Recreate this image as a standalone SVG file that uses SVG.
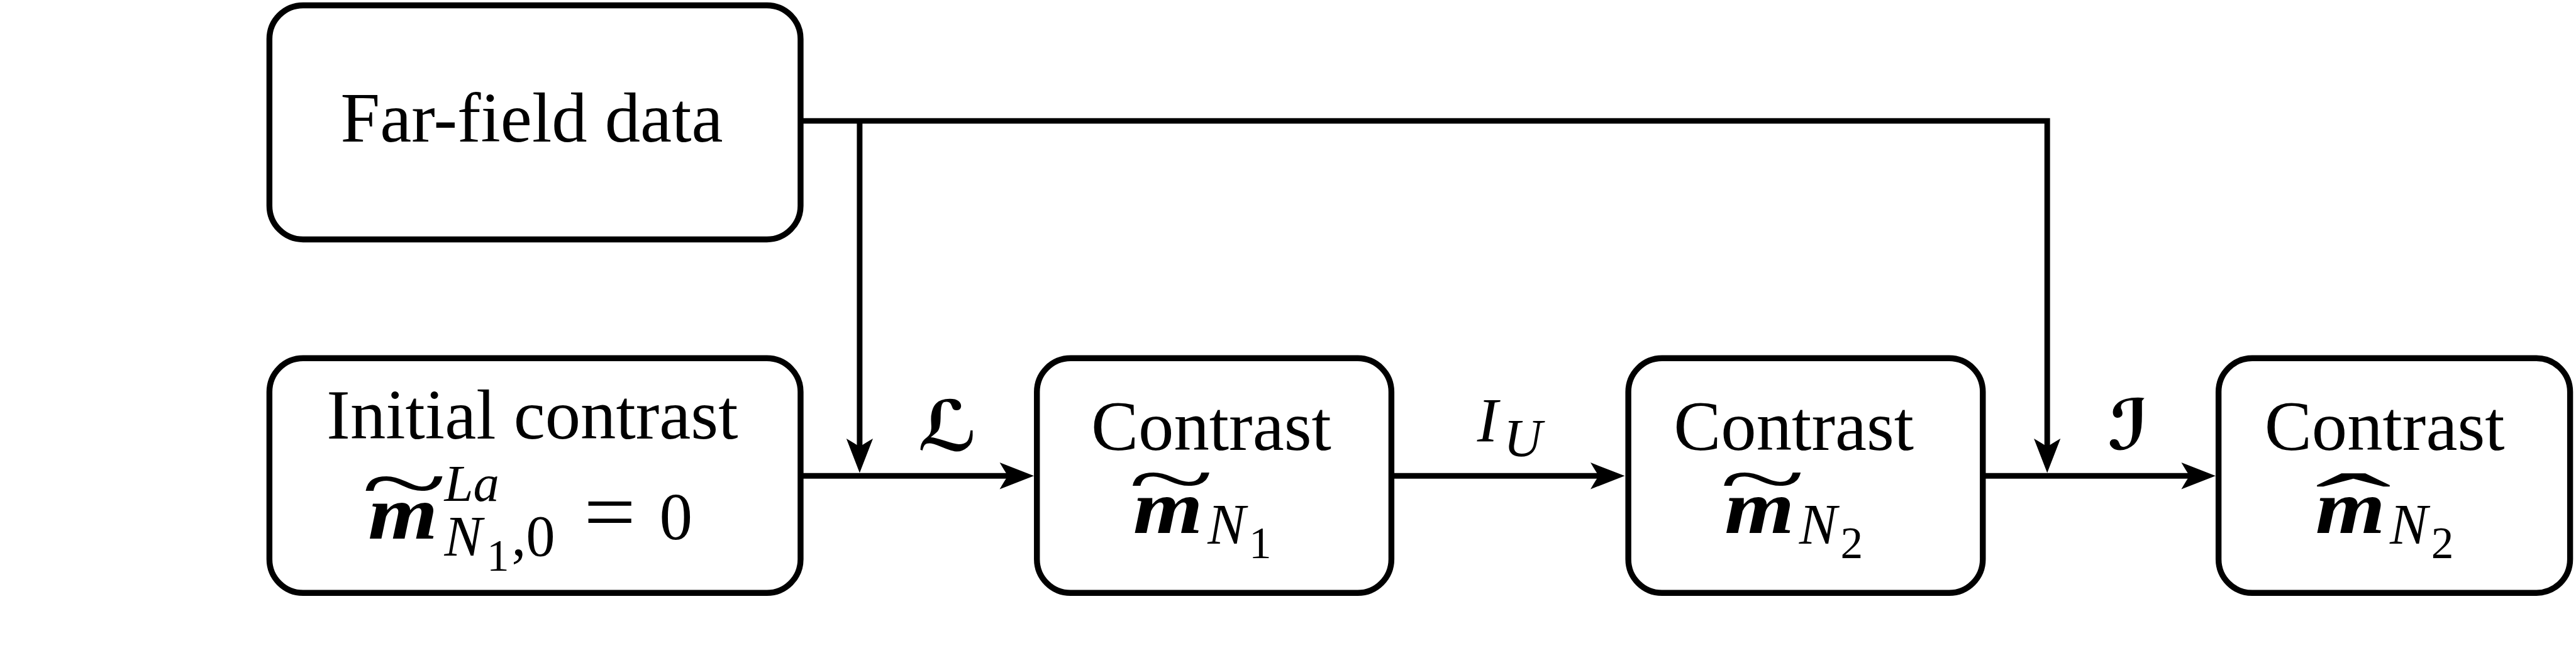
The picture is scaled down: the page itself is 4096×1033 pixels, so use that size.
<svg xmlns="http://www.w3.org/2000/svg" width="4096" height="1033" viewBox="0 0 4096 1033">
<style>
.box{fill:#fff;stroke:#000;stroke-width:10}
.ln{fill:none;stroke:#000;stroke-width:9.5;stroke-linejoin:miter;stroke-linecap:butt}
.ah{fill:#000;stroke:none}
.t{font-family:"Liberation Serif","Times New Roman",serif;font-size:120px;fill:#000}
.mb{font-family:"Liberation Serif","Times New Roman",serif;font-weight:bold;font-style:italic;font-size:128px;fill:#000}
.mi{font-family:"Liberation Serif","Times New Roman",serif;font-style:italic;fill:#000}
.mr{font-family:"Liberation Serif","Times New Roman",serif;fill:#000}
.sc{font-family:"DejaVu Serif","DejaVu Sans","Liberation Serif",serif;font-style:italic;fill:#000}
</style>
<defs>
<path id="ah" d="M0,0 L-58,-22.5 Q-49,-7 -44,0 Q-49,7 -58,22.5 Z"/>
</defs>
<rect width="4096" height="1033" fill="#fff"/>
<g transform="scale(0.93945)">
<g id="connectors">
<path class="ln" d="M1355,204.5 H3465 V765"/>
<path class="ln" d="M1455,204.5 V765"/>
<path class="ln" d="M1355,805 H1714"/>
<path class="ln" d="M2355,805 H2714"/>
<path class="ln" d="M3356,805 H3714"/>
<use href="#ah" class="ah" transform="translate(1455,800) rotate(90)"/>
<use href="#ah" class="ah" transform="translate(3465,800) rotate(90)"/>
<use href="#ah" class="ah" transform="translate(1750,805)"/>
<use href="#ah" class="ah" transform="translate(2750,805)"/>
<use href="#ah" class="ah" transform="translate(3750,805)"/>
<text class="sc" x="1604" y="762" font-size="118" font-weight="bold" text-anchor="middle">ℒ</text>
<text class="mi" x="2500" y="746" font-size="106">I</text>
<text class="mi" x="2545" y="772" font-size="90">U</text>
<text class="sc" x="3602" y="760" font-size="118" font-weight="bold" text-anchor="middle">ℐ</text>
</g>
<g id="farfield">
<rect class="box" x="456" y="9" width="899" height="396" rx="57"/>
<text class="t" x="900" y="239" text-anchor="middle">Far-field data</text>
</g>
<g id="initial">
<rect class="box" x="456" y="606" width="899" height="397" rx="57"/>
<text class="t" x="901" y="742" text-anchor="middle">Initial contrast</text>
<text class="mb" x="623" y="911" textLength="118" lengthAdjust="spacingAndGlyphs">m</text>
<text class="mr" transform="translate(684,866) scale(1,0.55)" font-size="268" text-anchor="middle">~</text>
<text class="mi" x="752" y="847" font-size="88">La</text>
<text class="mi" x="752" y="940" font-size="96">N</text>
<text class="mr" x="824" y="965" font-size="76">1</text>
<text class="mr" x="866" y="940" font-size="98">,0</text>
<text class="mr" x="988" y="914" font-size="145" textLength="88" lengthAdjust="spacingAndGlyphs">=</text>
<text class="mr" x="1116" y="912" font-size="112">0</text>
</g>
<g id="contrast1">
<rect class="box" x="1755" y="606" width="600" height="397" rx="57"/>
<text class="t" x="2050" y="761" text-anchor="middle">Contrast</text>
<text class="mb" x="1918" y="902" textLength="118" lengthAdjust="spacingAndGlyphs">m</text>
<text class="mr" transform="translate(1982,855) scale(1,0.5)" font-size="268" text-anchor="middle">~</text>
<text class="mi" x="2044" y="920" font-size="96">N</text>
<text class="mr" x="2114" y="944" font-size="76">1</text>
</g>
<g id="contrast2">
<rect class="box" x="2756" y="606" width="600" height="397" rx="57"/>
<text class="t" x="3036" y="761" text-anchor="middle">Contrast</text>
<text class="mb" x="2919" y="902" textLength="118" lengthAdjust="spacingAndGlyphs">m</text>
<text class="mr" transform="translate(2983,855) scale(1,0.5)" font-size="268" text-anchor="middle">~</text>
<text class="mi" x="3045" y="920" font-size="96">N</text>
<text class="mr" x="3115" y="944" font-size="76">2</text>
</g>
<g id="contrast3">
<rect class="box" x="3755" y="606" width="595" height="397" rx="57"/>
<text class="t" x="4036" y="761" text-anchor="middle">Contrast</text>
<text class="mb" x="3919" y="902" textLength="118" lengthAdjust="spacingAndGlyphs">m</text>
<text class="mr" transform="translate(3983,905) scale(1,0.385)" font-size="389" text-anchor="middle">ˆ</text>
<text class="mi" x="4045" y="920" font-size="96">N</text>
<text class="mr" x="4115" y="944" font-size="76">2</text>
</g>
</g>
</svg>
